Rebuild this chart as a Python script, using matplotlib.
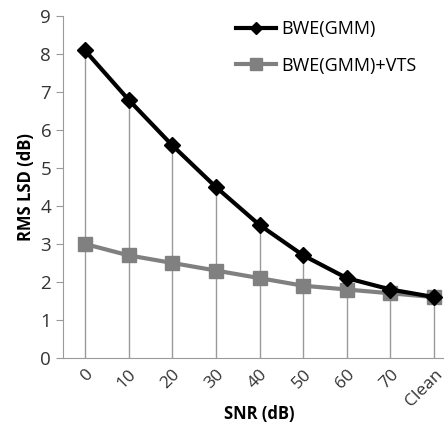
import numpy as np
import matplotlib
matplotlib.use('Agg')
import matplotlib.pyplot as plt

# categories and series
snr_labels = ['0', '10', '20', '30', '40', '50', '60', '70', 'Clean']
bwe_gmm = [8.1, 6.8, 5.6, 4.5, 3.5, 2.7, 2.1, 1.8, 1.6]
bwe_gmm_vts = [3.0, 2.7, 2.5, 2.3, 2.1, 1.9, 1.8, 1.7, 1.6]

plt.rcParams['font.family'] = ['Open Sans', 'DejaVu Sans']

fig = plt.figure(figsize=(4.44, 4.26), dpi=100)
ax = fig.add_axes([0.142, 0.160, 0.885, 0.802])

x = np.arange(len(snr_labels))

# drop lines from the higher point down to the axis
tops = np.maximum(bwe_gmm, bwe_gmm_vts)
ax.vlines(x, 0, tops, color='#9a9a9a', lw=1, zorder=1)

ax.plot(x, bwe_gmm, color='black', lw=3, marker='D', markersize=8,
        label='BWE(GMM)', zorder=3)
ax.plot(x, bwe_gmm_vts, color='#808080', lw=3, marker='s', markersize=10,
        label='BWE(GMM)+VTS', zorder=2)

ax.set_xlim(-0.5, len(snr_labels) - 0.5)
ax.set_ylim(0, 9)
ax.set_yticks(range(0, 10))
ax.set_xticks(x)
ax.set_xticklabels(snr_labels, rotation=45, ha='right', rotation_mode='anchor')

for s in ['top', 'right']:
    ax.spines[s].set_visible(False)
for s in ['left', 'bottom']:
    ax.spines[s].set_color('#9a9a9a')
ax.tick_params(axis='y', length=5, colors='#9a9a9a', labelcolor='#333333',
               labelsize=13.5)
ax.tick_params(axis='x', length=0, labelsize=12.5, labelcolor='#333333', pad=6)

ax.set_ylabel('RMS LSD (dB)', fontsize=12, fontweight='bold', labelpad=4)
ax.set_xlabel('SNR (dB)', fontsize=12, fontweight='bold', labelpad=-3)

leg = ax.legend(loc='upper left', bbox_to_anchor=(0.40, 1.035), frameon=False,
                fontsize=13, handlelength=2.2, labelspacing=1.0,
                handletextpad=0.3)
# smaller markers in the legend, as in the reference
leg.legend_handles[0].set_markersize(6)
leg.legend_handles[1].set_markersize(8)

fig.savefig('out.png', dpi=100)
